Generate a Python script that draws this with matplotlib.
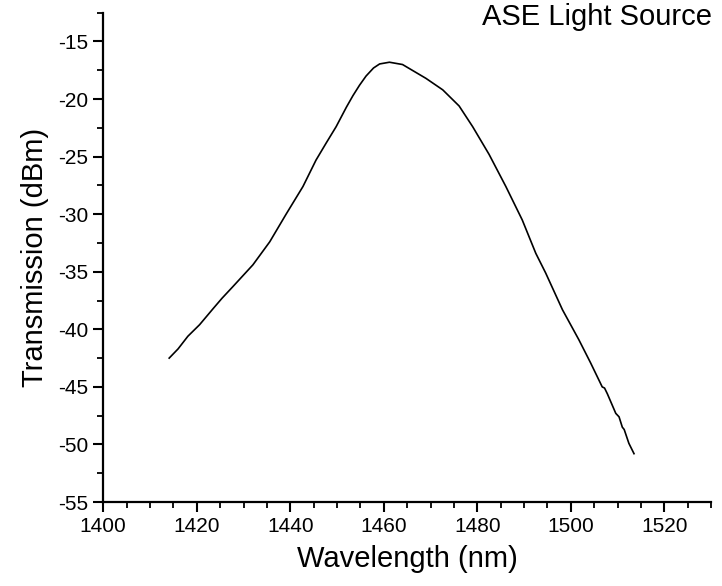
import matplotlib.pyplot as plt
from matplotlib.ticker import MultipleLocator

# values
wavelength = [1414.1, 1416.0, 1418.1, 1420.6, 1423.5, 1425.4, 1427.7, 1432.0, 1435.6,
              1439.1, 1442.7, 1445.5, 1447.7, 1449.8, 1452.0, 1453.4, 1454.8, 1456.2,
              1457.8, 1459.1, 1461.2, 1464.0, 1469.0, 1472.6, 1476.1, 1479.0, 1482.5,
              1486.1, 1489.6, 1492.5, 1494.6, 1498.2, 1501.7, 1504.2, 1506.7, 1507.2,
              1507.8, 1509.6, 1510.3, 1511.0, 1511.4, 1512.4, 1513.5]
transmission = [-42.5, -41.7, -40.6, -39.6, -38.2, -37.3, -36.3, -34.4, -32.4,
                -30.0, -27.6, -25.3, -23.8, -22.4, -20.7, -19.7, -18.8, -18.0,
                -17.3, -16.95, -16.8, -17.0, -18.2, -19.2, -20.6, -22.4, -24.8,
                -27.6, -30.5, -33.4, -35.1, -38.3, -40.9, -42.9, -45.0, -45.1,
                -45.6, -47.3, -47.6, -48.5, -48.7, -49.9, -50.8]

xticks = [1400, 1420, 1440, 1460, 1480, 1500, 1520]
yticks = [-55, -50, -45, -40, -35, -30, -25, -20, -15]

plt.rcParams["font.family"] = ["Liberation Sans", "DejaVu Sans"]
plt.rcParams["axes.unicode_minus"] = False

fig = plt.figure(figsize=(7.22, 5.86), dpi=100)
ax = fig.add_axes([0.143, 0.1433, 0.842, 0.835])

ax.plot(wavelength, transmission, color="black", linewidth=1.2)

ax.set_xlim(1400, 1530)
ax.set_ylim(-55, -12.5)
ax.set_xticks(xticks)
ax.set_yticks(yticks)
ax.xaxis.set_minor_locator(MultipleLocator(5))
ax.yaxis.set_minor_locator(MultipleLocator(2.5))

for side in ("top", "right"):
    ax.spines[side].set_visible(False)
for side in ("left", "bottom"):
    ax.spines[side].set_linewidth(1.6)

ax.tick_params(which="major", direction="out", length=7, width=1.5, labelsize=15, pad=4)
ax.tick_params(which="minor", direction="out", length=4, width=1.3)

ax.set_xlabel("Wavelength (nm)", fontsize=21, labelpad=6)
ax.set_ylabel("Transmission (dBm)", fontsize=21, labelpad=6)

fig.text(0.986, 0.995, "ASE Light Source", ha="right", va="top", fontsize=21)

fig.savefig("out.png", dpi=100)
